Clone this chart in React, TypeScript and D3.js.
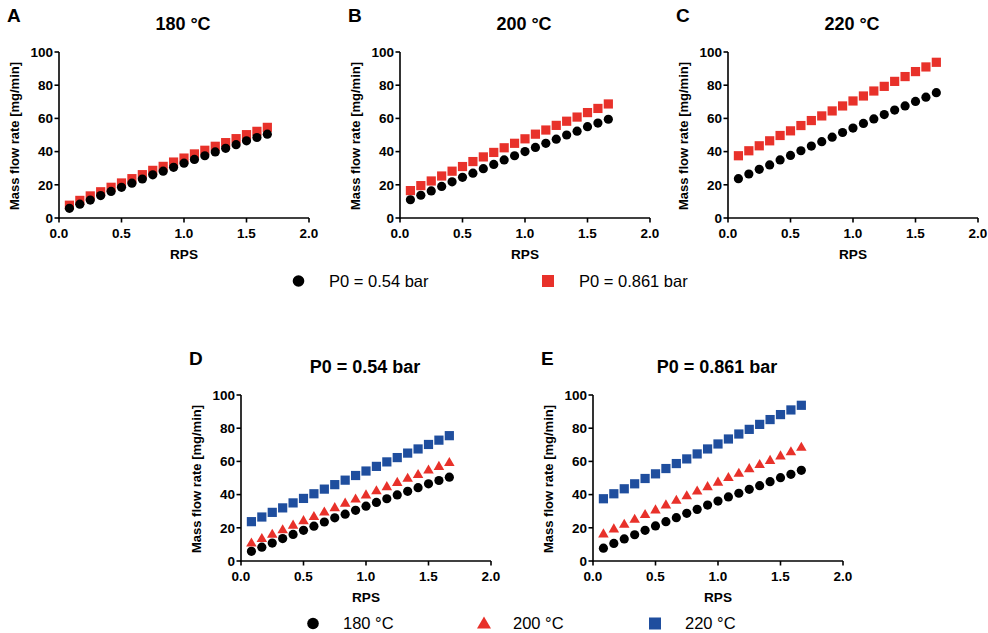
import React from "react";
import * as d3 from "d3";

const rps = [1, 2, 3, 4, 5, 6, 7, 8, 9, 10, 11, 12, 13, 14, 15, 16, 17, 18, 19, 20].map((i) => i / 12);
const t180p054 = [5.8, 8.3, 10.8, 13.5, 16, 18.5, 21, 23.5, 26, 28.2, 30.5, 33, 35.3, 37.5, 39.8, 42, 44.2, 46.5, 48.5, 50.5];
const t180p0861 = [7.7, 10.6, 13.3, 15.8, 18.5, 21.1, 23.7, 26.1, 28.7, 31.1, 33.7, 36.1, 38.6, 40.8, 43.2, 45.4, 47.8, 50.2, 52.2, 54.6];
const t200p054 = [11, 13.7, 16.3, 19, 21.8, 24.5, 27, 29.7, 32.3, 35, 37.5, 40, 42.5, 45, 47.5, 50, 52.3, 55, 57.2, 59.5];
const t200p0861 = [16.5, 19.5, 22.3, 25.3, 28.2, 31, 34, 36.8, 39.5, 42.3, 45, 47.7, 50.5, 53, 55.8, 58.3, 60.8, 63.5, 66, 68.7];
const t220p054 = [23.7, 26.5, 29.3, 32, 35, 37.7, 40.5, 43.3, 46, 48.7, 51.5, 54.2, 57, 59.7, 62.3, 65, 67.5, 70.2, 72.8, 75.5];
const t220p0861 = [37.5, 40.5, 43.5, 46.5, 49.7, 52.5, 55.7, 58.7, 61.5, 64.5, 67.5, 70.5, 73.5, 76.5, 79.3, 82.3, 85.2, 88.2, 91, 93.8];
const xTicks = [0, 0.5, 1, 1.5, 2];
const yTicks = [0, 20, 40, 60, 80, 100];
const pressureLabels = ["P0 = 0.54 bar", "P0 = 0.861 bar"];
const tempLabels = ["180 °C", "200 °C", "220 °C"];

const RED = "#E8312A";
const BLUE = "#1F4E9E";
const BLACK = "#000000";
const FONT = "Liberation Sans, Arial, sans-serif";

type Shape = "circle" | "square" | "triangle";
type Series = { values: number[]; shape: Shape; color: string };

function Marker({ shape, color, x, y }: { shape: Shape; color: string; x: number; y: number }) {
  if (shape === "circle") return <circle cx={x} cy={y} r={4.6} fill={color} />;
  if (shape === "square")
    return <rect x={x - 4.6} y={y - 4.6} width={9.2} height={9.2} fill={color} />;
  const sym = d3.symbol().type(d3.symbolTriangle).size(48)();
  return <path d={sym || ""} transform={`translate(${x},${y + 0.8})`} fill={color} />;
}

function Panel({ ox, oy, letter, title, series }: { ox: number; oy: number; letter: string; title: string; series: Series[] }) {
  const x = d3.scaleLinear().domain([0, 2]).range([ox, ox + 250]);
  const y = d3.scaleLinear().domain([0, 100]).range([oy, oy - 166]);
  return (
    <g fontFamily={FONT}>
      <text x={ox - 52} y={oy - 196} fontSize={19} fontWeight="bold">{letter}</text>
      <text x={ox + 124} y={oy - 188} fontSize={18} fontWeight="bold" textAnchor="middle">{title}</text>
      {series.map((s, si) =>
        s.values.map((v, i) => <Marker key={`${si}-${i}`} shape={s.shape} color={s.color} x={x(rps[i])} y={y(v)} />)
      )}
      <line x1={ox} x2={ox} y1={y(100)} y2={oy + 0.8} stroke="#000" strokeWidth={1.6} />
      <line x1={ox - 0.8} x2={x(2)} y1={oy} y2={oy} stroke="#000" strokeWidth={1.6} />
      {yTicks.map((t) => (
        <g key={`y${t}`}>
          <line x1={ox - 4.5} x2={ox} y1={y(t)} y2={y(t)} stroke="#000" strokeWidth={1.6} />
          <text x={ox - 6} y={y(t) + 4.8} fontSize={13.5} fontWeight="bold" textAnchor="end">{t}</text>
        </g>
      ))}
      {xTicks.map((t) => (
        <g key={`x${t}`}>
          <line x1={x(t)} x2={x(t)} y1={oy} y2={oy + 4.5} stroke="#000" strokeWidth={1.6} />
          <text x={x(t)} y={oy + 20} fontSize={13.5} fontWeight="bold" textAnchor="middle">{t.toFixed(1)}</text>
        </g>
      ))}
      <text x={ox + 125} y={oy + 41} fontSize={13.6} fontWeight="bold" textAnchor="middle">RPS</text>
      <text transform={`translate(${ox - 40},${oy - 82}) rotate(-90)`} fontSize={13} fontWeight="bold" textAnchor="middle">Mass flow rate [mg/min]</text>
    </g>
  );
}

function LegendItem({ x, y, shape, color, label, tx }: { x: number; y: number; shape: Shape; color: string; label: string; tx: number }) {
  return (
    <g>
      {shape === "circle" ? (
        <circle cx={x} cy={y} r={5.8} fill={color} />
      ) : shape === "square" ? (
        <rect x={x - 6} y={y - 6} width={12} height={12} fill={color} />
      ) : (
        <path d={d3.symbol().type(d3.symbolTriangle).size(85)() || ""} transform={`translate(${x},${y + 1})`} fill={color} />
      )}
      <text x={tx} y={y + 5.5} fontSize={16.5} fontFamily={FONT}>{label}</text>
    </g>
  );
}

export default function App() {
  return (
    <svg width={988} height={633} style={{ position: "absolute", left: 0, top: 0, background: "#fff" }}>
      <rect width={988} height={633} fill="#fff" />
      <Panel ox={59} oy={218} letter="A" title={tempLabels[0]} series={[
        { values: t180p0861, shape: "square", color: RED },
        { values: t180p054, shape: "circle", color: BLACK },
      ]} />
      <Panel ox={400} oy={218} letter="B" title={tempLabels[1]} series={[
        { values: t200p0861, shape: "square", color: RED },
        { values: t200p054, shape: "circle", color: BLACK },
      ]} />
      <Panel ox={728} oy={218} letter="C" title={tempLabels[2]} series={[
        { values: t220p0861, shape: "square", color: RED },
        { values: t220p054, shape: "circle", color: BLACK },
      ]} />
      <LegendItem x={298.5} y={281} tx={329} shape="circle" color={BLACK} label={pressureLabels[0]} />
      <LegendItem x={548} y={281} tx={579} shape="square" color={RED} label={pressureLabels[1]} />
      <Panel ox={241} oy={561} letter="D" title={pressureLabels[0]} series={[
        { values: t220p054, shape: "square", color: BLUE },
        { values: t200p054, shape: "triangle", color: RED },
        { values: t180p054, shape: "circle", color: BLACK },
      ]} />
      <Panel ox={593} oy={561} letter="E" title={pressureLabels[1]} series={[
        { values: t220p0861, shape: "square", color: BLUE },
        { values: t200p0861, shape: "triangle", color: RED },
        { values: t180p0861, shape: "circle", color: BLACK },
      ]} />
      <LegendItem x={313} y={623.5} tx={343} shape="circle" color={BLACK} label={tempLabels[0]} />
      <LegendItem x={484} y={623.5} tx={513} shape="triangle" color={RED} label={tempLabels[1]} />
      <LegendItem x={655} y={623.5} tx={685} shape="square" color={BLUE} label={tempLabels[2]} />
    </svg>
  );
}
